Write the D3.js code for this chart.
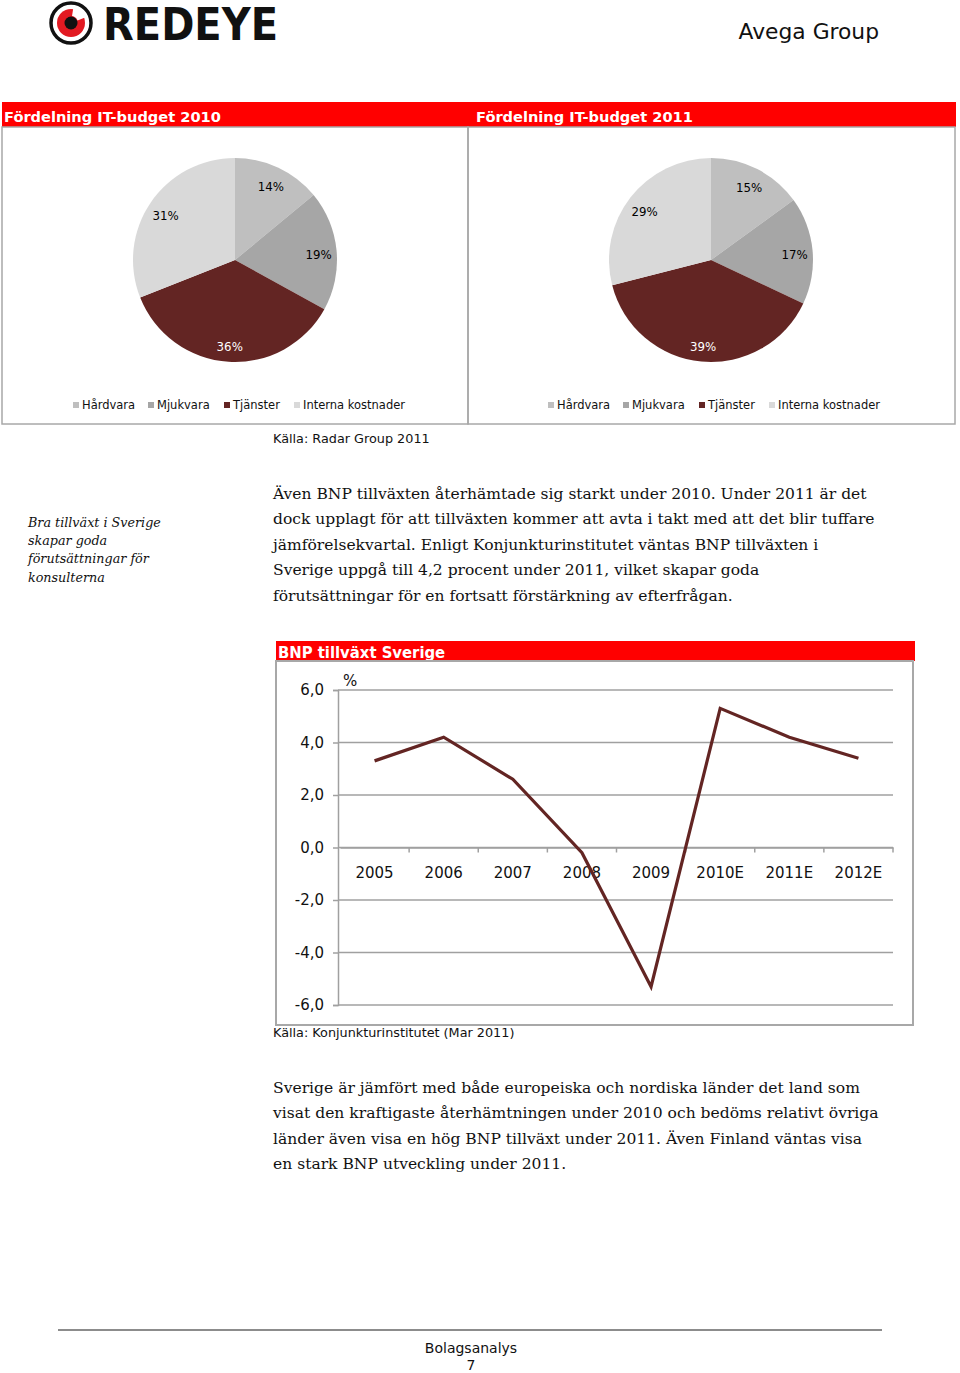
<!DOCTYPE html>
<html><head><meta charset="utf-8">
<script src="https://cdn.jsdelivr.net/npm/d3@7"></script>
<style>
html,body{margin:0;padding:0;background:#fff;}
svg{display:block;}
</style></head>
<body>
<svg id="page" width="960" height="1373"></svg>
<script>
// ---------- DATA ----------
const pieCategories = ["Hårdvara", "Mjukvara", "Tjänster", "Interna kostnader"];
const pieColors = ["#bfbfbf", "#a6a6a6", "#632523", "#d9d9d9"];
const pieLabelColors = ["#000", "#000", "#fff", "#000"];
const budget2010 = [14, 19, 36, 31];
const budget2011 = [15, 17, 39, 29];
const pieTitles = ["Fördelning IT-budget 2010", "Fördelning IT-budget 2011"];

const years = ["2005", "2006", "2007", "2008", "2009", "2010E", "2011E", "2012E"];
const gdpGrowth = [3.3, 4.2, 2.6, -0.2, -5.3, 5.3, 4.2, 3.4];
const yTicks = [6, 4, 2, 0, -2, -4, -6];

const sideNote = ["Bra tillväxt i Sverige", "skapar goda", "förutsättningar för", "konsulterna"];
const para1 = [
  "Även BNP tillväxten återhämtade sig starkt under 2010. Under 2011 är det",
  "dock upplagt för att tillväxten kommer att avta i takt med att det blir tuffare",
  "jämförelsekvartal. Enligt Konjunkturinstitutet väntas BNP tillväxten i",
  "Sverige uppgå till 4,2 procent under 2011, vilket skapar goda",
  "förutsättningar för en fortsatt förstärkning av efterfrågan."
];
const para2 = [
  "Sverige är jämfört med både europeiska och nordiska länder det land som",
  "visat den kraftigaste återhämtningen under 2010 och bedöms relativt övriga",
  "länder även visa en hög BNP tillväxt under 2011. Även Finland väntas visa",
  "en stark BNP utveckling under 2011."
];

// ---------- DRAW ----------
const svg = d3.select("#page");
const SANS = "'DejaVu Sans', Verdana, sans-serif";
const SERIF = "'DejaVu Serif', Georgia, serif";
const RED = "#ff0000";
const LINE = "#632523";
const fmt = d => d3.format(".1f")(d).replace(".", ",").replace("\u2212", "-");

// Logo
const logo = svg.append("g");
logo.append("circle").attr("cx", 71).attr("cy", 23).attr("r", 20).attr("fill", "#fff").attr("stroke", "#111").attr("stroke-width", 3.5);
logo.append("circle").attr("cx", 71).attr("cy", 23).attr("r", 14).attr("fill", "#e21a22");
logo.append("path").attr("transform", "translate(71,23)")
  .attr("d", d3.arc()({innerRadius: 7, outerRadius: 15, startAngle: 0.15, endAngle: 1.2})).attr("fill", "#fff");
logo.append("circle").attr("cx", 71).attr("cy", 23).attr("r", 6.5).attr("fill", "#111");
logo.append("text").attr("x", 103).attr("y", 40).attr("font-family", SANS).attr("font-weight", "bold")
  .attr("font-size", 44).attr("textLength", 175).attr("lengthAdjust", "spacingAndGlyphs")
  .attr("fill", "#111").text("REDEYE");
svg.append("text").attr("x", 879).attr("y", 39).attr("text-anchor", "end").attr("font-family", SANS)
  .attr("font-size", 21.8).attr("fill", "#111").text("Avega Group");

// Pie panels
svg.append("rect").attr("x", 2).attr("y", 102).attr("width", 954).attr("height", 25).attr("fill", RED);
const panels = [
  {data: budget2010, x: 2, w: 466, cx: 235, legendX: 73},
  {data: budget2011, x: 468, w: 487, cx: 711, legendX: 548}
];
panels.forEach((p, i) => {
  svg.append("text").attr("x", i === 0 ? 4 : 476).attr("y", 122).attr("font-family", SANS)
    .attr("font-weight", "bold").attr("font-size", 14.6).attr("fill", "#fff").text(pieTitles[i]);
  svg.append("rect").attr("x", p.x).attr("y", 127).attr("width", p.w).attr("height", 297)
    .attr("fill", "none").attr("stroke", "#a8a8a8").attr("stroke-width", 1.5);
  const pie = d3.pie().sort(null).value(d => d)(p.data);
  const arc = d3.arc().innerRadius(0).outerRadius(102);
  const g = svg.append("g").attr("transform", `translate(${p.cx},260)`);
  g.selectAll("path").data(pie).join("path").attr("d", arc).attr("fill", (d, k) => pieColors[k]);
  g.selectAll("text").data(pie).join("text")
    .attr("transform", d => {
      const a = (d.startAngle + d.endAngle) / 2;
      return `translate(${84 * Math.sin(a)},${-84 * Math.cos(a) + 3})`;
    })
    .attr("text-anchor", "middle").attr("dy", "0.35em").attr("font-family", SANS).attr("font-size", 11.8)
    .attr("fill", (d, k) => pieLabelColors[k]).text(d => d.data + "%");
  // legend
  const offsets = [0, 75, 151, 221];
  const lg = svg.append("g").attr("transform", `translate(${p.legendX},405)`);
  pieCategories.forEach((c, k) => {
    lg.append("rect").attr("x", offsets[k]).attr("y", -3).attr("width", 6).attr("height", 6).attr("fill", pieColors[k]);
    lg.append("text").attr("x", offsets[k] + 9).attr("y", 0).attr("dy", "0.35em").attr("font-family", SANS)
      .attr("font-size", 11.5).attr("fill", "#111").text(c);
  });
});
svg.append("text").attr("x", 273).attr("y", 443).attr("font-family", SANS).attr("font-size", 12.8)
  .attr("fill", "#111").text("Källa: Radar Group 2011");

// Text blocks with fitted font size
function textBlock(lines, x, y0, lh, targetW, italic, refIdx) {
  const g = svg.append("g");
  const t = g.selectAll("text").data(lines).join("text")
    .attr("x", x).attr("y", (d, k) => y0 + k * lh)
    .attr("font-family", SERIF).attr("font-style", italic ? "italic" : "normal")
    .attr("font-size", 18).attr("fill", "#111").text(d => d);
  const w = t.nodes()[refIdx].getComputedTextLength();
  t.attr("font-size", 18 * targetW / w);
}
textBlock(sideNote, 28, 527, 18.2, 133, true, 0);
textBlock(para1, 273, 499, 25.4, 602, false, 1);
textBlock(para2, 273, 1093, 25.3, 606, false, 1);

// Line chart
svg.append("rect").attr("x", 276).attr("y", 641).attr("width", 639).attr("height", 20).attr("fill", RED);
svg.append("text").attr("x", 278).attr("y", 658).attr("font-family", "'DejaVu Sans Condensed', 'DejaVu Sans', sans-serif")
  .attr("font-stretch", "condensed").attr("font-weight", "bold").attr("font-size", 16.5).attr("fill", "#fff")
  .text("BNP tillväxt Sverige");
svg.append("rect").attr("x", 276).attr("y", 661).attr("width", 637).attr("height", 364)
  .attr("fill", "none").attr("stroke", "#a8a8a8").attr("stroke-width", 2);

const x = d3.scaleBand().domain(years).range([340, 893]).paddingInner(0).paddingOuter(0);
const y = d3.scaleLinear().domain([-6, 6]).range([1005, 690]);

// gridlines
svg.append("g").selectAll("line").data(yTicks).join("line")
  .attr("x1", 338).attr("x2", 893).attr("y1", d => y(d)).attr("y2", d => y(d))
  .attr("stroke", "#a0a0a0").attr("stroke-width", 1.5);
// y axis
const yAxis = svg.append("g").attr("transform", "translate(338,0)")
  .call(d3.axisLeft(y).tickValues(yTicks).tickFormat(fmt).tickSize(5).tickPadding(9));
yAxis.select(".domain").attr("stroke", "#a0a0a0").attr("stroke-width", 1.5);
yAxis.selectAll(".tick line").attr("stroke", "#a0a0a0").attr("stroke-width", 1.5);
yAxis.selectAll("text").attr("font-family", SANS).attr("font-size", 15).attr("fill", "#111");
svg.append("text").attr("x", 343).attr("y", 686).attr("font-family", SANS).attr("font-size", 15)
  .attr("fill", "#111").text("%");
// x axis at zero
const xAxis = svg.append("g").attr("transform", `translate(0,${y(0)})`)
  .call(d3.axisBottom(x).tickSize(0).tickPadding(20));
xAxis.select(".domain").attr("stroke", "#a0a0a0").attr("stroke-width", 1.5);
xAxis.selectAll("text").attr("font-family", SANS).attr("font-size", 15).attr("fill", "#111");
svg.append("g").selectAll("line").data(years).join("line")
  .attr("x1", d => x(d) + x.bandwidth()).attr("x2", d => x(d) + x.bandwidth())
  .attr("y1", y(0)).attr("y2", y(0) + 5).attr("stroke", "#a0a0a0").attr("stroke-width", 1.5);

svg.append("path").datum(gdpGrowth)
  .attr("d", d3.line().x((d, k) => x(years[k]) + x.bandwidth() / 2).y(d => y(d)))
  .attr("fill", "none").attr("stroke", LINE).attr("stroke-width", 3.2).attr("stroke-linejoin", "miter");

svg.append("text").attr("x", 273).attr("y", 1037).attr("font-family", SANS).attr("font-size", 12.8)
  .attr("fill", "#111").text("Källa: Konjunkturinstitutet (Mar 2011)");

// Footer
svg.append("line").attr("x1", 58).attr("x2", 882).attr("y1", 1330).attr("y2", 1330)
  .attr("stroke", "#666").attr("stroke-width", 1.5);
svg.append("text").attr("x", 471).attr("y", 1353).attr("text-anchor", "middle").attr("font-family", SANS)
  .attr("font-size", 14).attr("fill", "#111").text("Bolagsanalys");
svg.append("text").attr("x", 471).attr("y", 1370).attr("text-anchor", "middle").attr("font-family", SANS)
  .attr("font-size", 14).attr("fill", "#111").text("7");
</script>
</body></html>
